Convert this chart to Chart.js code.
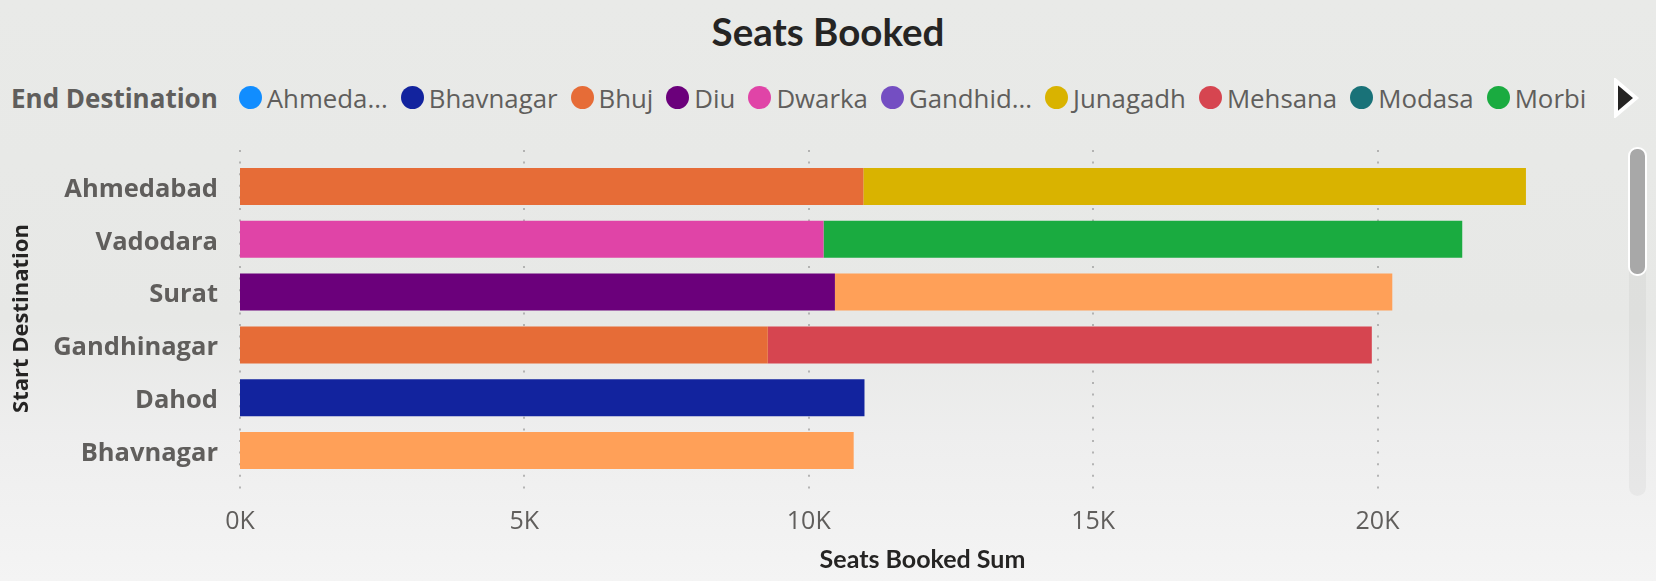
<!DOCTYPE html>
<html><head><meta charset="utf-8">
<script src="https://cdn.jsdelivr.net/npm/chart.js@4.4.1/dist/chart.umd.min.js"></script>
<style>
html,body{margin:0;padding:0;}
body{width:1656px;height:581px;overflow:hidden;position:relative;
  background:linear-gradient(to bottom,#e9eae8 0%,#e7e8e6 55%,#eeeeee 75%,#f4f4f4 100%);
  font-family:'Open Sans',sans-serif;}
#title{position:absolute;left:0;top:12px;width:1656px;text-align:center;font-family:Lato,sans-serif;font-weight:700;font-size:38.5px;line-height:38px;color:#252423;}
#legend{position:absolute;left:11px;top:80px;height:35px;display:flex;align-items:center;white-space:nowrap;color:#605E5C;font-size:25.8px;}
#legend .lt{font-weight:700;font-size:26px;margin-right:21px;}
#legend .dot{width:23px;height:23px;border-radius:50%;margin-right:5px;flex:none;}
#legend .txt{margin-right:13px;}
#arrow{position:absolute;left:1610px;top:78px;}
#track{position:absolute;left:1629px;top:148px;width:17px;height:348px;border-radius:9px;background:rgba(0,0,0,0.035);}
#thumb{position:absolute;left:1628px;top:147px;width:15px;height:125px;border-radius:9px;background:#a8a8a8;border:2px solid #fff;}
canvas{position:absolute;left:0;top:0;}
</style></head>
<body>
<div id="title">Seats Booked</div>
<div id="legend"><span class="lt">End Destination</span></div>
<svg id="arrow" width="30" height="40"><polygon points="6,3 26,20 6,37" fill="#252423" stroke="#ffffff" stroke-width="4" stroke-linejoin="miter"/></svg>
<div id="track"></div><div id="thumb"></div>
<canvas id="c" width="1656" height="581"></canvas>
<script>
// ---- data ----
const categories = ['Ahmedabad','Vadodara','Surat','Gandhinagar','Dahod','Bhavnagar'];
const seriesNames = ['Ahmedabad','Bhavnagar','Bhuj','Diu','Dwarka','Gandhidham','Junagadh','Mehsana','Modasa','Morbi','Nadiad','Palanpur','Porbandar'];
const legendLabels = ['Ahmeda...','Bhavnagar','Bhuj','Diu','Dwarka','Gandhid...','Junagadh','Mehsana','Modasa','Morbi'];
const seriesColors = ['#118DFF','#12239E','#E66C37','#6B007B','#E044A7','#744EC2','#D9B300','#D64550','#197278','#1AAB40','#15C6F4','#4092FF','#FFA058'];
const xTickValues = [0,5000,10000,15000,20000];

const toAhmedabad   = [null,null,null,null,null,null];
const toBhavnagar   = [null,null,null,null,10980,null];
const toBhuj        = [10960,null,null,9280,null,null];
const toDiu         = [null,null,10460,null,null,null];
const toDwarka      = [null,10260,null,null,null,null];
const toGandhidham  = [null,null,null,null,null,null];
const toJunagadh    = [11650,null,null,null,null,null];
const toMehsana     = [null,null,null,10620,null,null];
const toModasa      = [null,null,null,null,null,null];
const toMorbi       = [null,11230,null,null,null,null];
const toNadiad      = [null,null,null,null,null,null];
const toPalanpur    = [null,null,null,null,null,null];
const toPorbandar   = [null,null,9800,null,null,10790];

const seriesValues = [toAhmedabad,toBhavnagar,toBhuj,toDiu,toDwarka,toGandhidham,toJunagadh,toMehsana,toModasa,toMorbi,toNadiad,toPalanpur,toPorbandar];

// ---- legend (HTML) ----
const lg = document.getElementById('legend');
legendLabels.forEach((t,i)=>{
  const d=document.createElement('span');d.className='dot';d.style.background=seriesColors[i];lg.appendChild(d);
  const s=document.createElement('span');s.className='txt';s.textContent=t;lg.appendChild(s);
});

const dotGrid = {
  id:'dotGrid',
  beforeDatasetsDraw(chart){
    const {ctx, chartArea, scales:{x}} = chart;
    ctx.save();
    ctx.strokeStyle='rgba(165,165,165,0.8)';
    ctx.lineWidth=2;
    ctx.setLineDash([2,9.6]);
    x.ticks.forEach(t=>{
      const px = Math.round(x.getPixelForValue(t.value));
      ctx.beginPath();
      ctx.moveTo(px, chartArea.top-10);
      ctx.lineTo(px, chartArea.bottom+20);
      ctx.stroke();
    });
    ctx.restore();
  }
};

new Chart(document.getElementById('c'), {
  type:'bar',
  data:{
    labels:categories,
    datasets:seriesNames.map((n,i)=>({label:n,data:seriesValues[i],backgroundColor:seriesColors[i],borderWidth:0,barPercentage:0.7,categoryPercentage:1.0}))
  },
  options:{
    indexAxis:'y',
    responsive:false,
    animation:false,
    layout:{padding:{top:160,right:51,bottom:0,left:0}},
    plugins:{legend:{display:false},title:{display:false},tooltip:{enabled:false}},
    scales:{
      x:{
        type:'linear',stacked:true,min:0,max:24000,
        afterBuildTicks:(s)=>{s.ticks = xTickValues.map(v=>({value:v}));},
        afterFit:(s)=>{s.height=104;},
        grid:{display:false,drawTicks:false},
        border:{display:false},
        ticks:{padding:30,color:'#605E5C',font:{family:'Open Sans',size:25},callback:(v)=>(v/1000)+'K'},
        title:{display:true,text:'Seats Booked Sum',color:'#252423',font:{family:'Lato',weight:'bold',size:25},padding:{top:0,bottom:6}}
      },
      y:{
        type:'category',stacked:true,
        afterFit:(s)=>{s.width=240;},
        grid:{display:false,drawTicks:false},
        border:{display:false},
        ticks:{padding:22,labelOffset:3,color:'#605E5C',font:{family:'Open Sans',weight:'bold',size:25.5}},
        title:{display:true,text:'Start Destination',color:'#252423',font:{family:'Open Sans',weight:'bold',size:22},padding:{top:9,bottom:0}}
      }
    }
  },
  plugins:[dotGrid]
});
</script>
</body></html>
